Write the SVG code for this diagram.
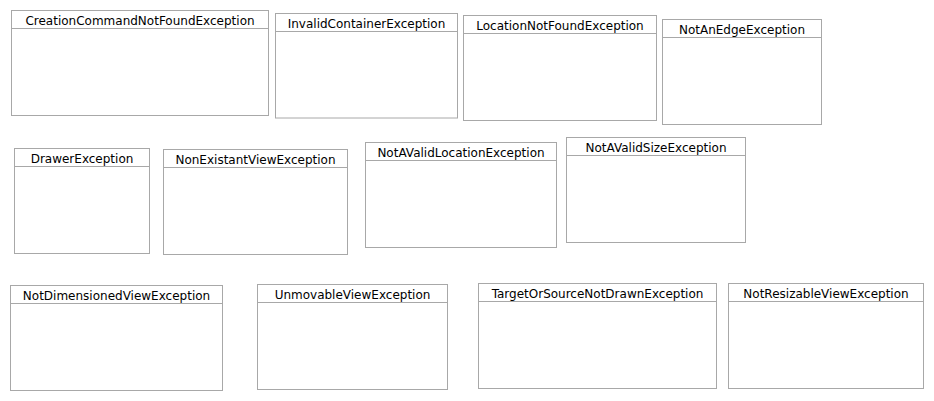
<svg xmlns="http://www.w3.org/2000/svg" width="934" height="401" viewBox="0 0 934 401">
<style>
.box{fill:#fff;stroke:#a8a8a8;stroke-width:1}
.sep{stroke:#a8a8a8;stroke-width:1}
text{font-family:"DejaVu Sans",sans-serif;font-size:12px;fill:#000;text-anchor:middle}
</style>
<rect width="934" height="401" fill="#fff"/>
<g id="CreationCommandNotFoundException"><rect class="box" x="11.5" y="10.5" width="257" height="105"/><line class="sep" x1="11.5" y1="28.5" x2="268.5" y2="28.5"/><text x="140" y="24.5">CreationCommandNotFoundException</text></g>
<g id="InvalidContainerException"><rect class="box" x="275.5" y="13.5" width="182" height="104.5"/><line class="sep" x1="275.5" y1="31.5" x2="457.5" y2="31.5"/><text x="366.5" y="27.5">InvalidContainerException</text></g>
<g id="LocationNotFoundException"><rect class="box" x="463.5" y="15.5" width="193" height="105"/><line class="sep" x1="463.5" y1="33.5" x2="656.5" y2="33.5"/><text x="560" y="29.5">LocationNotFoundException</text></g>
<g id="NotAnEdgeException"><rect class="box" x="662.5" y="19.5" width="159" height="105"/><line class="sep" x1="662.5" y1="37.5" x2="821.5" y2="37.5"/><text x="742" y="33.5">NotAnEdgeException</text></g>
<g id="DrawerException"><rect class="box" x="14.5" y="148.5" width="135" height="105"/><line class="sep" x1="14.5" y1="166.5" x2="149.5" y2="166.5"/><text x="82" y="162.5">DrawerException</text></g>
<g id="NonExistantViewException"><rect class="box" x="163.5" y="149.5" width="184" height="105"/><line class="sep" x1="163.5" y1="167.5" x2="347.5" y2="167.5"/><text x="255.5" y="163.5">NonExistantViewException</text></g>
<g id="NotAValidLocationException"><rect class="box" x="365.5" y="142.5" width="191" height="105"/><line class="sep" x1="365.5" y1="160.5" x2="556.5" y2="160.5"/><text x="461" y="156.5">NotAValidLocationException</text></g>
<g id="NotAValidSizeException"><rect class="box" x="566.5" y="137.5" width="179" height="105"/><line class="sep" x1="566.5" y1="155.5" x2="745.5" y2="155.5"/><text x="656" y="151.5">NotAValidSizeException</text></g>
<g id="NotDimensionedViewException"><rect class="box" x="10.5" y="285.5" width="212" height="105"/><line class="sep" x1="10.5" y1="303.5" x2="222.5" y2="303.5"/><text x="116.5" y="299.5">NotDimensionedViewException</text></g>
<g id="UnmovableViewException"><rect class="box" x="257.5" y="284.5" width="190" height="105"/><line class="sep" x1="257.5" y1="302.5" x2="447.5" y2="302.5"/><text x="352.5" y="298.5">UnmovableViewException</text></g>
<g id="TargetOrSourceNotDrawnException"><rect class="box" x="478.5" y="283.5" width="238" height="105"/><line class="sep" x1="478.5" y1="301.5" x2="716.5" y2="301.5"/><text x="597.5" y="297.5">TargetOrSourceNotDrawnException</text></g>
<g id="NotResizableViewException"><rect class="box" x="728.5" y="283.5" width="195" height="105"/><line class="sep" x1="728.5" y1="301.5" x2="923.5" y2="301.5"/><text x="826" y="297.5">NotResizableViewException</text></g>
<g id="connectors"/>
</svg>
